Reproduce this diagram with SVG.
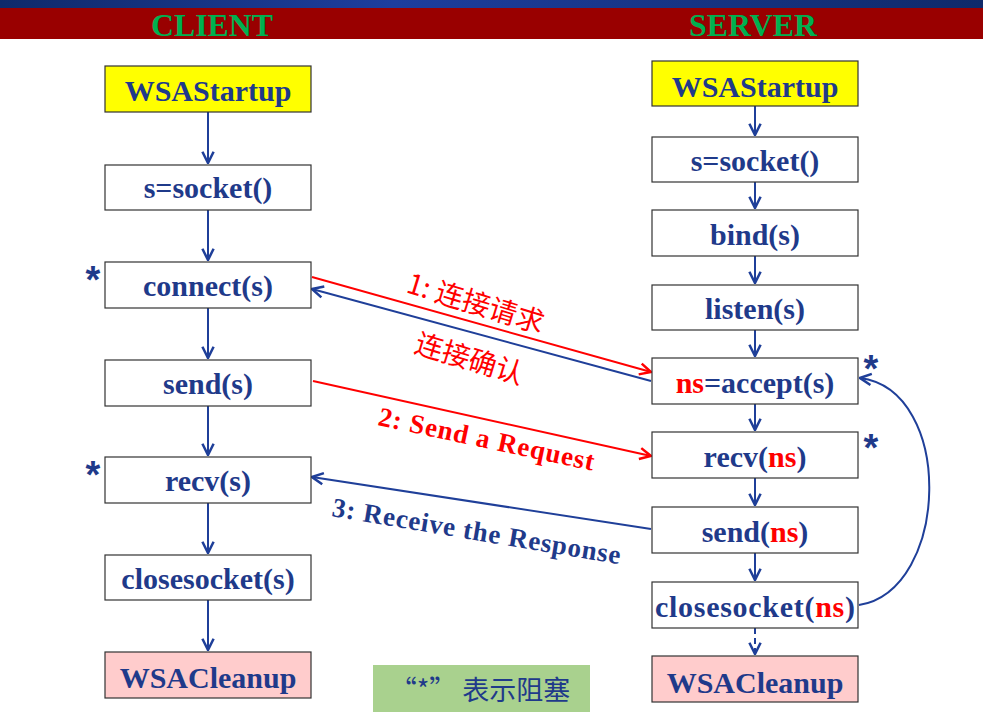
<svg xmlns="http://www.w3.org/2000/svg" width="983" height="712" viewBox="0 0 983 712">
<defs>
<linearGradient id="tb" x1="0" x2="1"><stop offset="0" stop-color="#0f2a6a"/><stop offset="0.4" stop-color="#1d3e9e"/><stop offset="1" stop-color="#0f2a6a"/></linearGradient>
<marker id="ab" viewBox="0 0 10 10" refX="9" refY="5" markerWidth="7" markerHeight="7" orient="auto-start-reverse"><path d="M1,1 L9,5 L1,9" fill="none" stroke="#1f3f99" stroke-width="1.8"/></marker>
<marker id="ar" viewBox="0 0 10 10" refX="9" refY="5" markerWidth="7" markerHeight="7" orient="auto"><path d="M1,1 L9,5 L1,9" fill="none" stroke="#ff0000" stroke-width="1.8"/></marker>
</defs>
<style>
.b{fill:#fff;stroke:#333;stroke-width:1.2}
.y{fill:#ffff00}.p{fill:#ffcccc}
.t{font-family:"Liberation Serif",serif;font-weight:bold;font-size:30px;fill:#1f3a8a;text-anchor:middle}
.r{fill:#ff0000}
.c{stroke:#1f3f99;stroke-width:2;fill:none;marker-end:url(#ab)}
.cr{stroke:#ff0000;stroke-width:2;fill:none;marker-end:url(#ar)}
.l{font-family:"Liberation Serif",serif;font-weight:bold;font-size:27px}
.z{font-family:"Noto Sans CJK SC",sans-serif;font-size:28px}
.s{font-family:"Liberation Sans",sans-serif;font-weight:bold;font-size:38px;fill:#1f3a8a;text-anchor:middle}
</style>
<rect width="983" height="712" fill="#fff"/>
<rect x="0" y="0" width="983" height="8" fill="url(#tb)"/>
<rect x="0" y="8" width="983" height="31" fill="#990000"/>
<text x="212" y="36" font-family="Liberation Serif,serif" font-weight="bold" font-size="31" fill="#00b050" text-anchor="middle" textLength="122" lengthAdjust="spacingAndGlyphs">CLIENT</text>
<text x="753" y="36" font-family="Liberation Serif,serif" font-weight="bold" font-size="31" fill="#00b050" text-anchor="middle" textLength="128" lengthAdjust="spacingAndGlyphs">SERVER</text>
<g id="connectors">
<path class="c" d="M208,112 V163"/><path class="c" d="M208,210 V260"/><path class="c" d="M208,308 V358"/><path class="c" d="M208,406 V455"/><path class="c" d="M208,503 V553"/><path class="c" d="M208,600 V650"/>
<path class="c" d="M755,106 V135"/><path class="c" d="M755,182 V208"/><path class="c" d="M755,256 V283"/><path class="c" d="M755,330 V356"/><path class="c" d="M755,404 V430"/><path class="c" d="M755,478 V505"/><path class="c" d="M755,553 V580"/><path class="c" d="M755,628 V654" stroke-dasharray="6,4"/>
<path class="cr" d="M312,277 L651,372"/>
<path class="c" d="M651,381 L312,289"/>
<path class="cr" d="M313,381 L651,456"/>
<path class="c" d="M651,529 L312,477"/>
<path class="c" d="M859,605 C950,590 955,390 860,378"/>
</g>
<text class="z" fill="#ff0000" transform="translate(405,292) rotate(17)">1:  连接请求</text>
<text class="z" fill="#ff0000" transform="translate(413,352) rotate(17)">连接确认</text>
<text class="l" fill="#ff0000" transform="translate(377,425) rotate(12)" textLength="220">2: Send a Request</text>
<text class="l" fill="#1f3a8a" transform="translate(331,516) rotate(9.5)" textLength="292">3: Receive the Response</text>
<g id="c1"><rect class="b y" x="105" y="66" width="206" height="46"/><text class="t" x="208" y="101" font-size="32">WSAStartup</text></g>
<g id="c2"><rect class="b" x="105" y="165" width="206" height="45"/><text class="t" x="208" y="198">s=socket()</text></g>
<g id="c3"><rect class="b" x="105" y="262" width="206" height="46"/><text class="t" x="208" y="296">connect(s)</text></g>
<g id="c4"><rect class="b" x="105" y="360" width="206" height="46"/><text class="t" x="208" y="394">send(s)</text></g>
<g id="c5"><rect class="b" x="105" y="457" width="206" height="46"/><text class="t" x="208" y="491">recv(s)</text></g>
<g id="c6"><rect class="b" x="105" y="555" width="206" height="45"/><text class="t" x="208" y="589">closesocket(s)</text></g>
<g id="c7"><rect class="b p" x="105" y="652" width="206" height="46"/><text class="t" x="208" y="688" font-size="32">WSACleanup</text></g>
<g id="s1"><rect class="b y" x="652" y="61" width="206" height="45"/><text class="t" x="755" y="97" font-size="32">WSAStartup</text></g>
<g id="s2"><rect class="b" x="652" y="137" width="206" height="45"/><text class="t" x="755" y="171">s=socket()</text></g>
<g id="s3"><rect class="b" x="652" y="210" width="206" height="46"/><text class="t" x="755" y="245">bind(s)</text></g>
<g id="s4"><rect class="b" x="652" y="285" width="206" height="45"/><text class="t" x="755" y="319">listen(s)</text></g>
<g id="s5"><rect class="b" x="652" y="358" width="206" height="46"/><text class="t" x="755" y="393"><tspan class="r">ns</tspan>=accept(s)</text></g>
<g id="s6"><rect class="b" x="652" y="432" width="206" height="46"/><text class="t" x="755" y="467">recv(<tspan class="r">ns</tspan>)</text></g>
<g id="s7"><rect class="b" x="652" y="507" width="206" height="46"/><text class="t" x="755" y="542">send(<tspan class="r">ns</tspan>)</text></g>
<g id="s8"><rect class="b" x="652" y="582" width="206" height="46"/><text class="t" x="755" y="617" textLength="200">closesocket(<tspan class="r">ns</tspan>)</text></g>
<g id="s9"><rect class="b p" x="652" y="656" width="206" height="46"/><text class="t" x="755" y="693" font-size="32">WSACleanup</text></g>
<text class="s" x="93" y="293">*</text><text class="s" x="93" y="488">*</text><text class="s" x="871" y="382">*</text><text class="s" x="871" y="461">*</text>
<g id="legend"><rect x="373" y="665" width="217" height="47" fill="#a9d18e"/><text x="480" y="700" font-family="Noto Sans CJK SC,sans-serif" font-size="27" fill="#1f3a8a" text-anchor="middle">“*”  表示阻塞</text></g>
</svg>
